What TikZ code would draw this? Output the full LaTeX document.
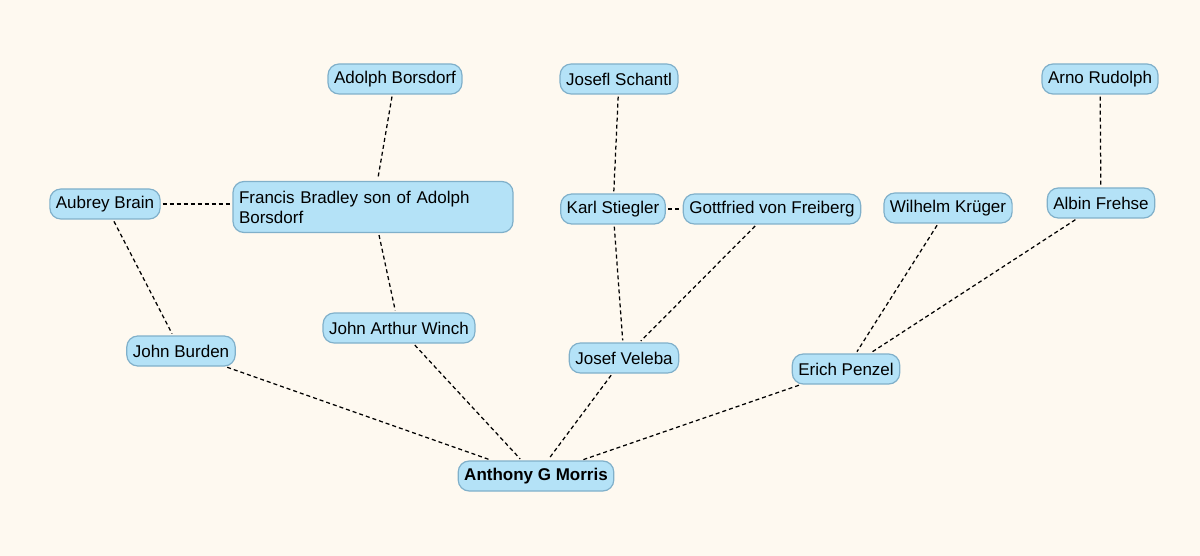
\documentclass[tikz,border=0pt]{standalone}
\usepackage{fontspec}
\setmainfont{Liberation Sans}
\definecolor{bgc}{RGB}{254,249,240}
\definecolor{nodefill}{RGB}{180,226,247}
\definecolor{nodeline}{RGB}{128,176,202}
\begin{document}
\begin{tikzpicture}[x=1pt,y=-1pt,
  person/.style={draw=nodeline, fill=nodefill, line width=1.2pt, rounded corners=11pt,
    minimum height=30pt, inner xsep=6pt, inner ysep=4pt,
    font=\fontsize{17}{20}\selectfont},
  link/.style={draw=black, line width=1.25pt, dash pattern=on 4pt off 3pt, shorten <=2pt, shorten >=2pt}]
\fill[bgc] (0,0) rectangle (1200,556);
\useasboundingbox (0,0) rectangle (1200,556);
\node[person] (adolph) at (395,79) {Adolph Borsdorf};
\node[person] (schantl) at (619,79) {Josefl Schantl};
\node[person] (arno) at (1100,79) {Arno Rudolph};
\node[person] (aubrey) at (105,204) {Aubrey Brain};
\node[person, text width=268pt, align=left, minimum height=51pt] (francis) at (373,207) {Francis Bradley son of Adolph\\Borsdorf};
\node[person] (karl) at (613,209) {Karl Stiegler};
\node[person] (gottfried) at (772,209) {Gottfried von Freiberg};
\node[person] (wilhelm) at (948,208) {Wilhelm Krüger};
\node[person] (albin) at (1101,203) {Albin Frehse};
\node[person] (burden) at (181,351) {John Burden};
\node[person] (winch) at (399,328) {John Arthur Winch};
\node[person] (veleba) at (624,358) {Josef Veleba};
\node[person] (penzel) at (846,369) {Erich Penzel};
\node[person, font=\fontsize{17}{20}\selectfont\bfseries] (anthony) at (536,476) {Anthony G Morris};
\draw[link] (adolph) -- (francis);
\draw[link] (francis) -- (winch);
\draw[link] (aubrey) -- (aubrey -| francis.west);
\draw[link] (aubrey) -- (burden);
\draw[link] (burden) -- (anthony);
\draw[link] (winch) -- (anthony);
\draw[link] (veleba) -- (anthony);
\draw[link] (penzel) -- (anthony);
\draw[link] (schantl) -- (karl);
\draw[link] (karl) -- (gottfried);
\draw[link] (karl) -- (veleba);
\draw[link] (gottfried) -- (veleba);
\draw[link] (wilhelm) -- (penzel);
\draw[link] (albin) -- (penzel);
\draw[link] (arno) -- (albin);
\end{tikzpicture}
\end{document}
